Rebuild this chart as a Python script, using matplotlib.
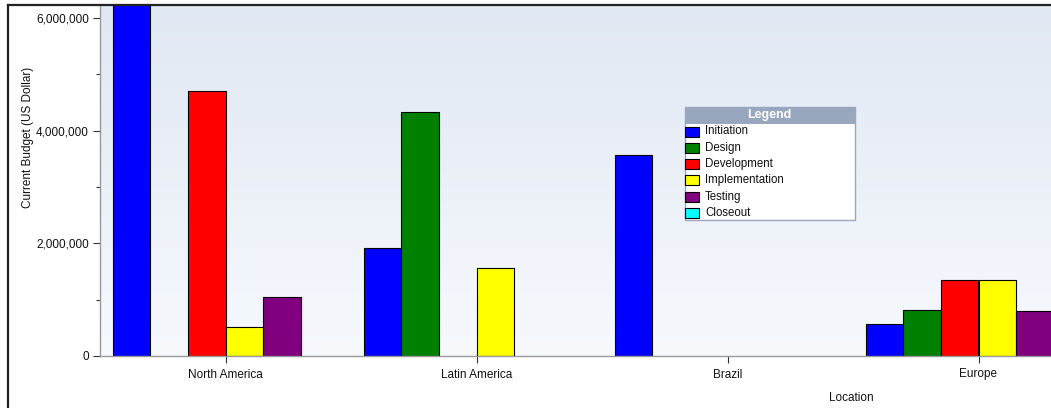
import numpy as np
import matplotlib.pyplot as plt
from matplotlib.patches import Rectangle
from matplotlib.lines import Line2D
from matplotlib.ticker import FuncFormatter, MultipleLocator

plt.rcParams['font.family'] = ['Liberation Sans', 'DejaVu Sans']

locations = ["North America", "Latin America", "Brazil", "Europe"]
phases = ["Initiation", "Design", "Development", "Implementation", "Testing", "Closeout"]
colors = ["#0000ff", "#008000", "#ff0000", "#ffff00", "#800080", "#00ffff"]

initiation = [7000000, 1920000, 3570000, 570000]
design = [0, 4330000, 0, 820000]
development = [4700000, 0, 0, 1350000]
implementation = [510000, 1560000, 0, 1350000]
testing = [1050000, 0, 0, 800000]
closeout = [0, 0, 0, 0]
series = [initiation, design, development, implementation, testing, closeout]

W, H = 1051, 408
fig = plt.figure(figsize=(W / 100, H / 100), dpi=100)
fig.patch.set_facecolor("white")

# plot area runs past the right edge of the picture (cropped chart)
ax = fig.add_axes([100 / W, 1 - 356 / H, 1004 / W, 351 / H])

# gradient background
grad = np.linspace(0, 1, 256).reshape(-1, 1)
top_c = np.array([0xe0, 0xe8, 0xf3]) / 255
bot_c = np.array([0xf7, 0xf9, 0xfd]) / 255
img = top_c * (1 - grad[..., None]) + bot_c * grad[..., None]
ax.imshow(img, extent=[0, 1, 0, 1], transform=ax.transAxes, aspect="auto", zorder=0)

x = np.arange(len(locations))
bw = 0.15
for i, (vals, c) in enumerate(zip(series, colors)):
    vals = np.array(vals, dtype=float)
    m = vals > 0
    ax.bar(x[m] + (i - 2.5) * bw, vals[m], width=bw, color=c,
           edgecolor="black", linewidth=0.8, zorder=2)

ax.set_xlim(-0.5, 3.5)
ax.set_ylim(0, 6229000)
ax.set_xticks(x)
ax.set_xticklabels(locations)
ax.yaxis.set_major_locator(MultipleLocator(2000000))
ax.yaxis.set_minor_locator(MultipleLocator(1000000))
ax.yaxis.set_major_formatter(FuncFormatter(lambda v, p: f"{int(v):,}"))
ax.tick_params(axis="both", labelsize=8.5, colors="#333333", length=5, width=0.8, pad=3)
ax.tick_params(axis="y", which="minor", length=3, width=0.8, colors="#333333")
ax.tick_params(axis="x", pad=4)
for lab in ax.get_xticklabels() + ax.get_yticklabels():
    lab.set_color("#111111")

for s in ["left", "bottom", "right"]:
    ax.spines[s].set_color("#999999")
    ax.spines[s].set_linewidth(1)
ax.spines["top"].set_visible(False)

ax.set_xlabel("Location", fontsize=8.5, color="#111111")
ax.xaxis.set_label_coords((851 - 100) / 1004, -0.102)
ax.set_ylabel("Current Budget (US Dollar)", fontsize=8.5, color="#111111")
ax.yaxis.set_label_coords(-0.066, 0.624)

# outer chart border (black lines at left and top)
fig.add_artist(Line2D([7.5 / W, 7.5 / W], [0, 1 - 5 / H], color="#222222", lw=1.6))
fig.add_artist(Line2D([7.5 / W, 1], [1 - 5 / H, 1 - 5 / H], color="#222222", lw=1.6))

# legend box
lx, ly, lw_, lh = 684, 106, 171, 114
lax = fig.add_axes([lx / W, 1 - (ly + lh) / H, lw_ / W, lh / H])
lax.set_xlim(0, lw_)
lax.set_ylim(lh, 0)
lax.axis("off")
lax.add_patch(Rectangle((0.5, 0.5), lw_ - 1, lh - 1, facecolor="white",
                        edgecolor="#9aa8bc", lw=1, clip_on=False))
lax.add_patch(Rectangle((0.5, 0.5), lw_ - 1, 17, facecolor="#98a7bd", edgecolor="none"))
lax.text(lw_ / 2, 9, "Legend", ha="center", va="center", color="white",
         fontsize=9, fontweight="bold")
for k, (name, c) in enumerate(zip(phases, colors)):
    yc = 25.5 + k * 16.3
    lax.add_patch(Rectangle((1, yc - 5), 14, 10, facecolor=c, edgecolor="black", lw=0.8))
    lax.text(21, yc, name, ha="left", va="center", fontsize=8.3, color="#111111")

fig.savefig("out.png", dpi=100)
